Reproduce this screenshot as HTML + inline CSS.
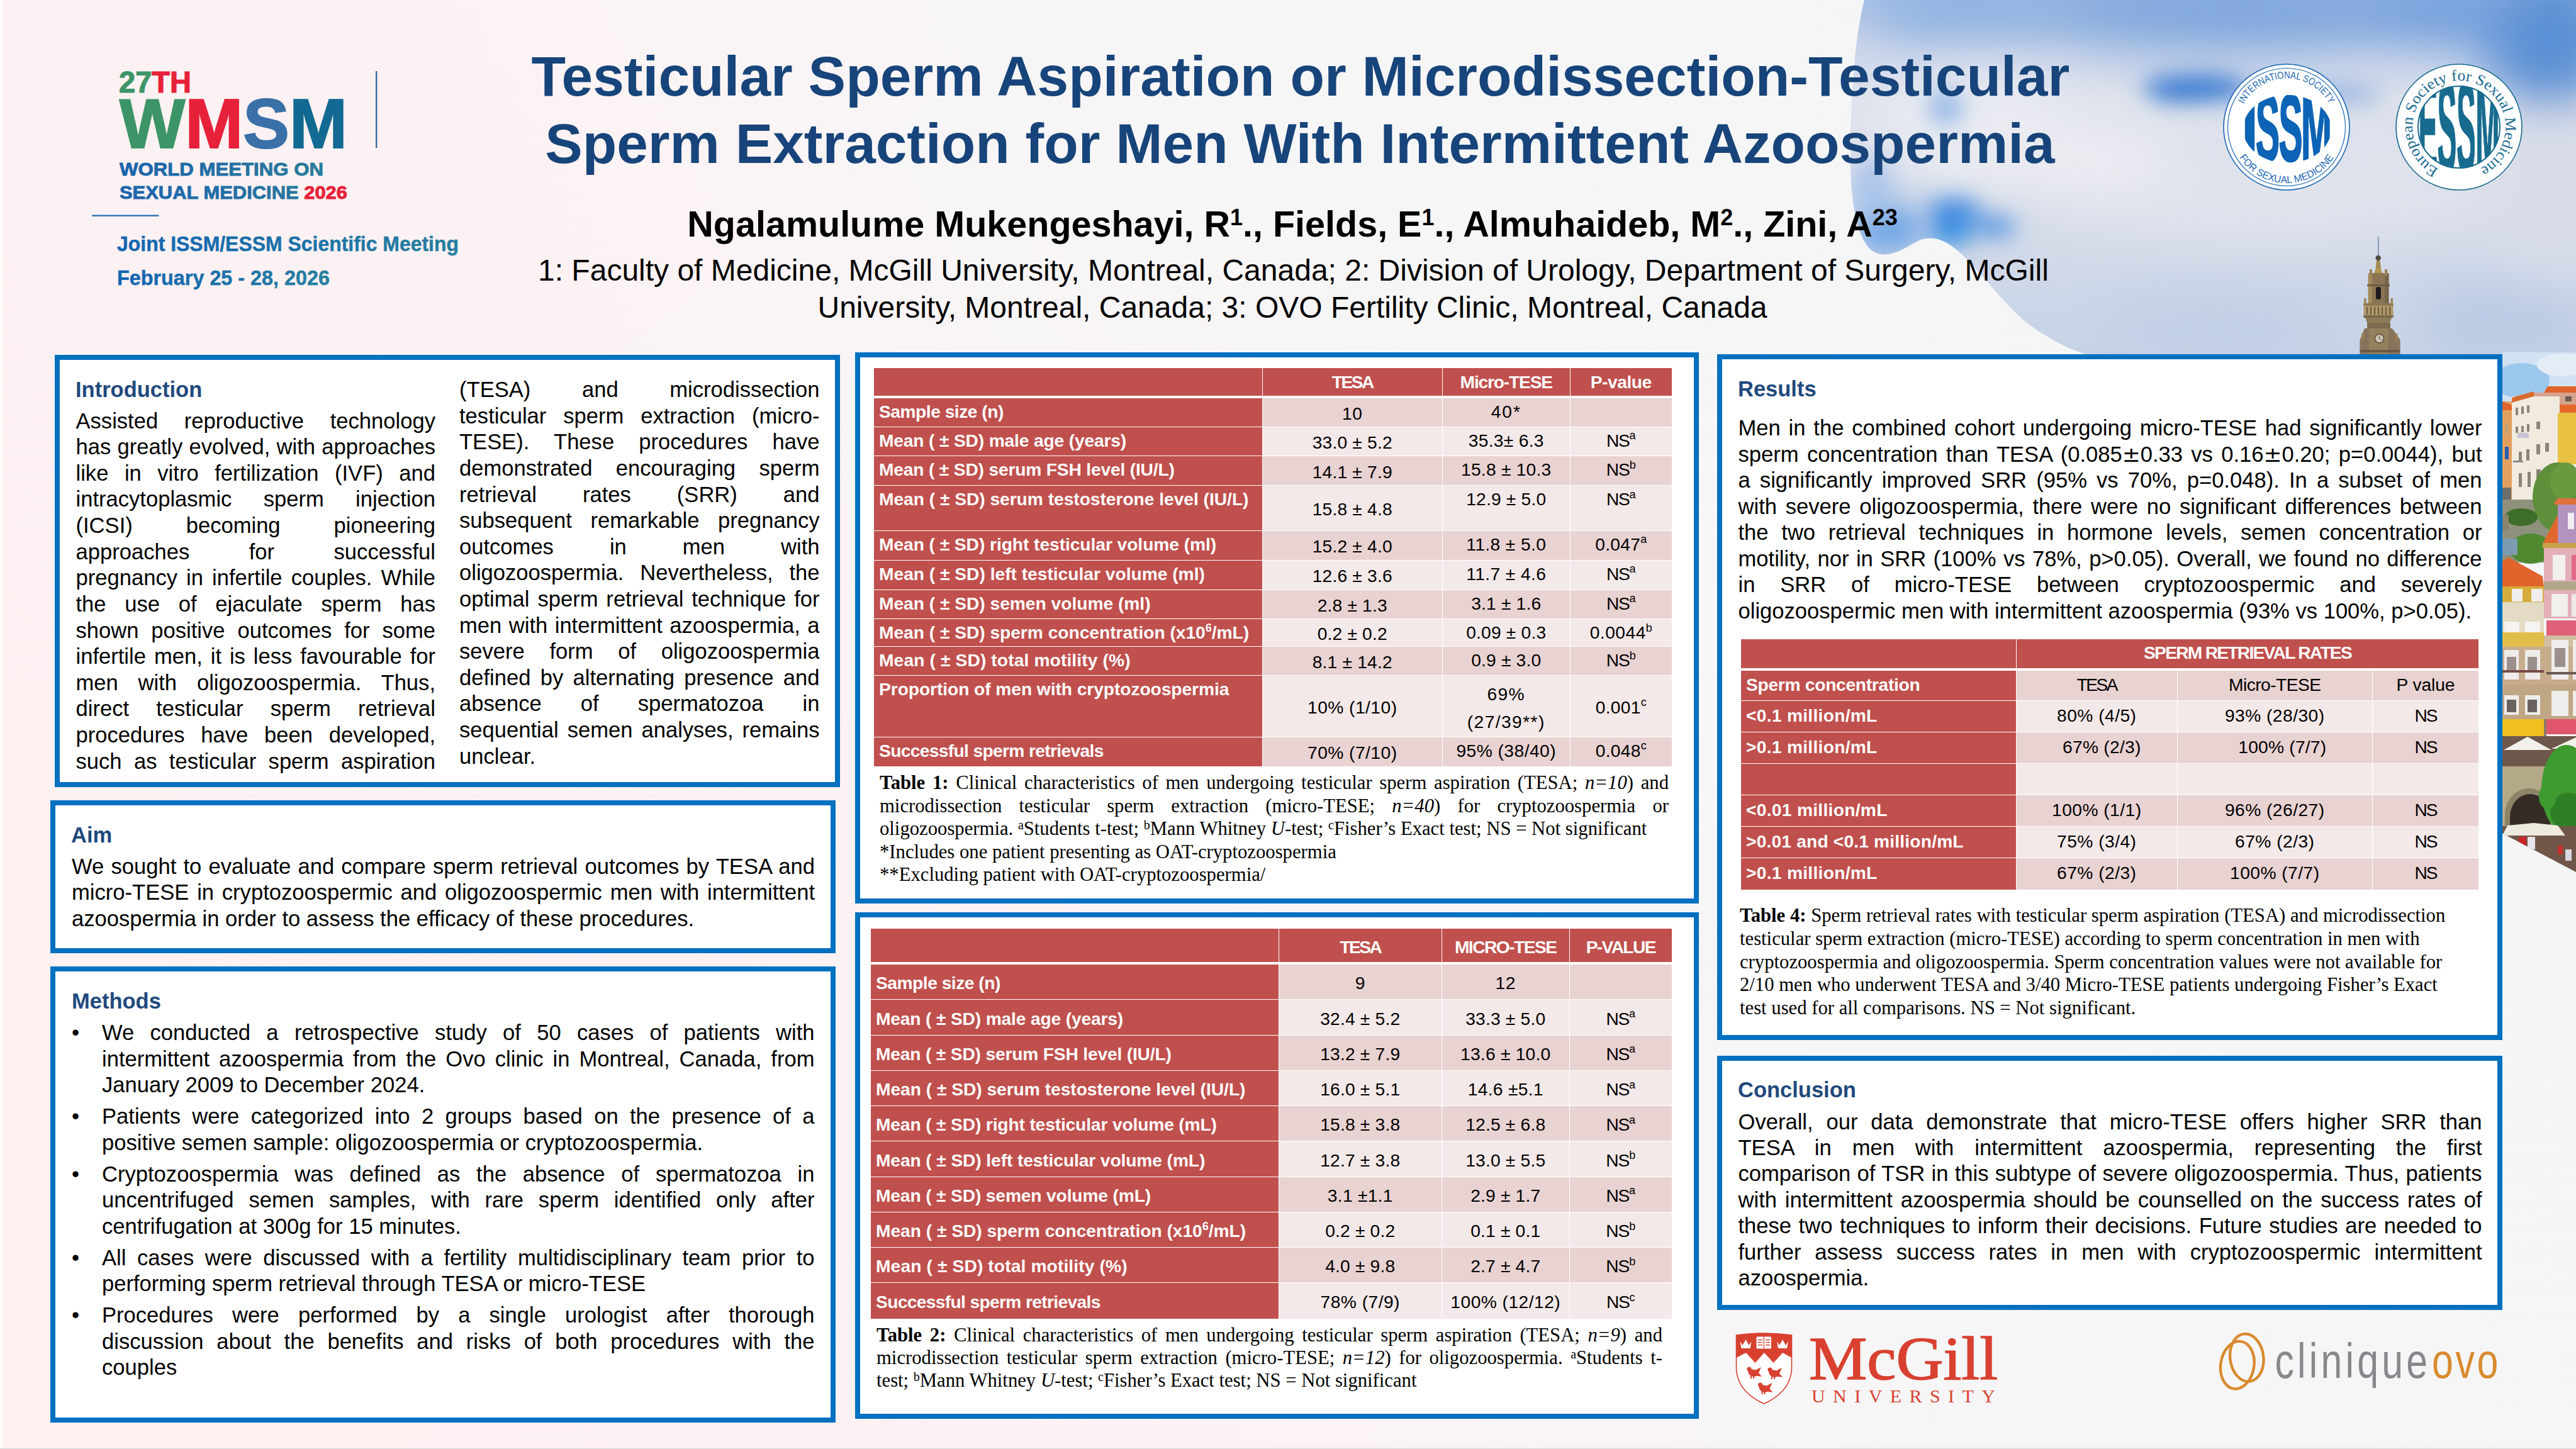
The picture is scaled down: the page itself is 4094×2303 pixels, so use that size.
<!DOCTYPE html>
<html lang="en"><head><meta charset="utf-8"><title>Testicular Sperm Aspiration or Microdissection-Testicular Sperm Extraction for Men With Intermittent Azoospermia</title>
<style>
*{box-sizing:border-box;margin:0;padding:0}
html,body{width:4094px;height:2303px;overflow:hidden}
body{position:relative;font-family:"Liberation Sans",sans-serif;color:#000;background:#f8f2f3}
.abs{position:absolute}
.box{position:absolute;background:#fff;border:8px solid #0070c0}
.h{position:absolute;font-weight:bold;font-size:34.5px;line-height:42px;color:#1f497d;white-space:nowrap}
.ln{position:absolute;font-size:34.6px;line-height:42px;height:42px;text-align:justify;text-align-last:justify;overflow:visible;white-space:nowrap}
.ln.l{text-align:left;text-align-last:left;white-space:nowrap}
.sf{font-family:"Liberation Serif",serif;font-size:30.7px;line-height:37px;height:37px}
.sf sup{font-size:20px;line-height:0;vertical-align:baseline;position:relative;top:-9px}
table{position:absolute;border-collapse:separate;border-spacing:0;table-layout:fixed;font-size:28.2px}
td{overflow:hidden;white-space:nowrap;text-align:center;vertical-align:middle;padding:0;border-right:1px solid #fff;border-bottom:1px solid #fff;line-height:34px}
tr.hrow td{border-bottom:4px solid #fff}
td sup{font-size:18px;letter-spacing:0;line-height:0;position:relative;top:-1px;vertical-align:super}
td.r{background:#c0504d;color:#fff;font-weight:bold;text-align:left;padding-left:8px}
td.hd{background:#c0504d;color:#fff;font-weight:bold}
tr.a td.d{background:#e9d2d2}
tr.b td.d{background:#f4e9e9}
td.last{border-right:none}
.pm{font-family:"DejaVu Sans",sans-serif}
tr.lastrow td{border-bottom:none}
</style></head>
<body>
<svg class="abs" style="left:0;top:0" width="4094" height="2303" viewBox="0 0 4094 2303">
<defs>
<linearGradient id="bgG" gradientUnits="userSpaceOnUse" x1="0" y1="1100" x2="4094" y2="-1097">
<stop offset="0" stop-color="#fdf1f2"/><stop offset="0.24" stop-color="#fcf2f3"/><stop offset="0.36" stop-color="#f9f5f6"/><stop offset="0.5" stop-color="#f6f6f7"/><stop offset="1" stop-color="#f3f4f5"/>
</linearGradient>
<linearGradient id="skyG" x1="0" x2="0" y1="0" y2="1">
<stop offset="0" stop-color="#a9c0e4"/><stop offset="0.12" stop-color="#c9d4ea"/><stop offset="0.28" stop-color="#dfe2ec"/><stop offset="0.5" stop-color="#d9dde9"/><stop offset="0.75" stop-color="#d0d8e8"/><stop offset="1" stop-color="#c6d2e6"/>
</linearGradient>
<filter id="bl60" x="-50%" y="-50%" width="200%" height="200%"><feGaussianBlur stdDeviation="40"/></filter>
<filter id="bl30" x="-50%" y="-50%" width="200%" height="200%"><feGaussianBlur stdDeviation="18"/></filter>
<filter id="bl12" x="-50%" y="-50%" width="200%" height="200%"><feGaussianBlur stdDeviation="9"/></filter>
<clipPath id="skyclip"><path d="M2963 0 C2948 60 2941 150 2941 250 C2941 320 2950 372 2972 396 C2996 416 3024 396 3050 382 C3074 372 3098 384 3122 408 C3150 436 3180 476 3215 508 C3255 540 3290 556 3330 568 L3985 568 L3985 1317 L4094 1384 L4094 0 Z"/></clipPath>
</defs>
<rect width="4094" height="2303" fill="url(#bgG)"/>
<path d="M1600 0 C1500 150 1250 400 900 600 L1750 600 C1500 400 1750 150 2000 0 Z" fill="#f8f4f5" opacity="0.55"/>
<rect x="0" y="0" width="4" height="2303" fill="#fdfbfb"/><rect x="0" y="2301.5" width="4094" height="1.5" fill="#dcdcdc"/>
<g clip-path="url(#skyclip)">
<rect x="2900" y="0" width="1200" height="580" fill="url(#skyG)"/>
<rect x="3977" y="560" width="120" height="70" fill="#cfd8e8"/>
<g filter="url(#bl60)">
<ellipse cx="3130" cy="20" rx="150" ry="60" fill="#8fb2e2"/>
<ellipse cx="3560" cy="20" rx="330" ry="55" fill="#7da5dc"/>
<ellipse cx="4050" cy="60" rx="110" ry="110" fill="#5a90d4"/>
<ellipse cx="3880" cy="20" rx="130" ry="50" fill="#6f9ddb"/>
<ellipse cx="3130" cy="200" rx="150" ry="110" fill="#e8eaf1"/>
<ellipse cx="3600" cy="300" rx="380" ry="80" fill="#e0e3ec"/>
<ellipse cx="4040" cy="330" rx="90" ry="130" fill="#d9dde9"/>
<ellipse cx="3980" cy="510" rx="140" ry="60" fill="#b9cae5"/><ellipse cx="3300" cy="250" rx="160" ry="60" fill="#ebecf2"/>
<ellipse cx="3520" cy="520" rx="200" ry="45" fill="#bfcee6"/>
<ellipse cx="3010" cy="350" rx="50" ry="40" fill="#8db6e6"/>
</g>
<g filter="url(#bl30)">
<ellipse cx="3490" cy="140" rx="85" ry="20" fill="#2f74d0"/><ellipse cx="3470" cy="148" rx="50" ry="14" fill="#2f74d0"/>
<ellipse cx="3680" cy="150" rx="110" ry="14" fill="#86abdf"/>
<ellipse cx="3105" cy="335" rx="44" ry="20" fill="#3f88e0"/>
<ellipse cx="3170" cy="360" rx="34" ry="16" fill="#4a8fe0"/>
<ellipse cx="3092" cy="170" rx="26" ry="28" fill="#8fb4e6"/>
<ellipse cx="3100" cy="372" rx="36" ry="18" fill="#2f8de0"/>
<ellipse cx="3000" cy="365" rx="50" ry="34" fill="#74a9e6"/>
<ellipse cx="2975" cy="300" rx="30" ry="50" fill="#a9c4ea"/>
</g>
</g>
</svg>
<svg class="abs" style="left:0;top:0" width="1000" height="520" viewBox="0 0 1000 520" font-family="Liberation Sans, sans-serif" font-weight="bold">
<defs>
<linearGradient id="blg" x1="0" x2="1"><stop offset="0" stop-color="#1c63ad"/><stop offset="1" stop-color="#2b7c9c"/></linearGradient>
<linearGradient id="blg2" x1="0" x2="1"><stop offset="0" stop-color="#1265b3"/><stop offset="1" stop-color="#257f9f"/></linearGradient>
</defs>
<text x="189" y="146.5" font-size="48" textLength="115" lengthAdjust="spacingAndGlyphs" stroke-width="1.2" paint-order="stroke"><tspan fill="#3d9567" stroke="#3d9567">27</tspan><tspan fill="#e8213b" stroke="#e8213b">TH</tspan></text>
<text x="190" y="234.8" font-size="111.5" textLength="362" lengthAdjust="spacingAndGlyphs" stroke-width="2.2"><tspan fill="#3d9567" stroke="#3d9567">W</tspan><tspan fill="#e8213b" stroke="#e8213b">M</tspan><tspan fill="#3a70a8" stroke="#3a70a8">S</tspan><tspan fill="#126a92" stroke="#126a92">M</tspan></text>
<rect x="597" y="113" width="2.4" height="122" fill="#2d6d9c"/>
<text x="190" y="279" font-size="30" fill="url(#blg)" stroke="url(#blg)" stroke-width="0.9" textLength="324" lengthAdjust="spacingAndGlyphs">WORLD MEETING ON</text>
<text x="190" y="316" font-size="30" fill="url(#blg)" stroke="url(#blg)" stroke-width="0.9" textLength="362" lengthAdjust="spacingAndGlyphs">SEXUAL MEDICINE <tspan fill="#e8213b" stroke="#e8213b">2026</tspan></text>
<rect x="146" y="341.5" width="106.5" height="2.4" fill="#2a72b8"/>
<text x="186" y="399" font-size="33.5" fill="url(#blg2)" stroke="url(#blg2)" stroke-width="0.5" textLength="543" lengthAdjust="spacingAndGlyphs">Joint ISSM/ESSM Scientific Meeting</text>
<text x="186" y="453" font-size="33.5" fill="url(#blg2)" stroke="url(#blg2)" stroke-width="0.5" textLength="338" lengthAdjust="spacingAndGlyphs">February 25 - 28, 2026</text>
</svg>
<div class="abs" style="left:844.6px;top:67.6px;width:2460px;text-align:left;font-weight:bold;font-size:89.3px;line-height:106px;color:#17447a;white-space:nowrap">Testicular Sperm Aspiration or Microdissection-Testicular</div>
<div class="abs" style="left:866.3px;top:175px;width:2460px;text-align:left;font-weight:bold;font-size:89.2px;line-height:106px;color:#17447a;white-space:nowrap">Sperm Extraction for Men With Intermittent Azoospermia</div>
<div class="abs" id="auth" style="left:1092.3px;top:323.3px;font-weight:bold;font-size:57.5px;line-height:66px;white-space:nowrap">Ngalamulume Mukengeshayi, R<sup style="font-size:36px;line-height:0;vertical-align:baseline;position:relative;top:-18px">1</sup>., Fields, E<sup style="font-size:36px;line-height:0;vertical-align:baseline;position:relative;top:-18px">1</sup>., Almuhaideb, M<sup style="font-size:36px;line-height:0;vertical-align:baseline;position:relative;top:-18px">2</sup>., Zini, A<sup style="font-size:36px;line-height:0;vertical-align:baseline;position:relative;top:-18px">23</sup></div>
<div class="abs" style="left:855px;top:401px;font-size:48px;line-height:58px;white-space:nowrap">1: Faculty of Medicine, McGill University, Montreal, Canada; 2: Division of Urology, Department of Surgery, McGill</div>
<div class="abs" style="left:1299.5px;top:460px;font-size:48px;line-height:58px;white-space:nowrap">University, Montreal, Canada; 3: OVO Fertility Clinic, Montreal, Canada</div>
<svg class="abs" style="left:3524px;top:92px" width="220" height="220" viewBox="-110 -110 220 220" font-family="Liberation Sans, sans-serif">
<circle r="100" fill="#fff" stroke="#1a66b3" stroke-width="1.6"/>
<circle r="93.5" fill="none" stroke="#1a66b3" stroke-width="1.2"/>
<defs><clipPath id="issmClip"><ellipse cx="1" cy="3" rx="70" ry="54"/></clipPath></defs>
<path id="issmTop" d="M-77.5 0 A77.5 77.5 0 0 1 77.5 0" fill="none"/>
<path id="issmBot" d="M-89 0 A89 89 0 0 0 89 0" fill="none"/>
<text font-size="16" fill="#1a66b3"><textPath href="#issmTop" startOffset="50%" text-anchor="middle" textLength="167" lengthAdjust="spacingAndGlyphs">INTERNATIONAL SOCIETY</textPath></text>
<text font-size="16" fill="#1a66b3"><textPath href="#issmBot" startOffset="50%" text-anchor="middle" textLength="178" lengthAdjust="spacingAndGlyphs">FOR SEXUAL MEDICINE</textPath></text>
<g font-weight="bold" fill="#0d63b5" stroke="#0d63b5" stroke-width="3" stroke-linejoin="round" clip-path="url(#issmClip)">
<text x="-71" y="44" font-size="120" textLength="25" lengthAdjust="spacingAndGlyphs">I</text>
<text x="-49" y="54" font-size="150" textLength="38" lengthAdjust="spacingAndGlyphs">S</text>
<text x="-12.5" y="54" font-size="150" textLength="38" lengthAdjust="spacingAndGlyphs">S</text>
<text x="23" y="52" font-size="146" textLength="49" lengthAdjust="spacingAndGlyphs">M</text>
</g>
</svg>
<svg class="abs" style="left:3798px;top:92px" width="220" height="220" viewBox="-110 -110 220 220">
<defs><clipPath id="essmClip"><circle r="66"/></clipPath></defs>
<circle r="100" fill="#fff" stroke="#176b8f" stroke-width="1.6"/>
<path id="essmArc" d="M-32.4 66.5 A74 74 0 1 1 33.6 65.9" fill="none"/>
<text font-size="24.5" fill="#176b8f" font-family="Liberation Serif, serif"><textPath href="#essmArc" startOffset="0" textLength="396" lengthAdjust="spacingAndGlyphs">European Society for Sexual Medicine</textPath></text>
<circle r="65" fill="none" stroke="#176b8f" stroke-width="2"/>
<g clip-path="url(#essmClip)"><text x="0" y="72" text-anchor="middle" font-size="208" font-weight="bold" fill="#176b8f" stroke="#176b8f" stroke-width="3" font-family="Liberation Sans, sans-serif" textLength="129" lengthAdjust="spacingAndGlyphs">ESSM</text></g>
</svg>
<svg class="abs" style="left:3740px;top:370px" width="90" height="196" viewBox="0 0 90 196">
<rect x="39" y="6" width="1.5" height="31" fill="#6b86ad"/>
<circle cx="39.7" cy="40" r="4.2" fill="#4f4a40"/>
<path d="M37 44 H42.5 L44 56 H35.5 Z" fill="#a58a52"/>
<path d="M33 65 L36 56 H43.5 L46.5 65 Z" fill="#b3964f"/>
<rect x="23.8" y="64" width="32.6" height="48" fill="#8a7554"/>
<rect x="23.8" y="64" width="6" height="48" fill="#a58c5e"/><rect x="50.4" y="64" width="6" height="48" fill="#75634a"/>
<rect x="26" y="58" width="4" height="10" fill="#9c8458"/><rect x="50" y="58" width="4" height="10" fill="#9c8458"/>
<rect x="22" y="82" width="36" height="3" fill="#6e5d45"/>
<rect x="36" y="86" width="8" height="20" rx="3.5" fill="#1d1b1f"/>
<rect x="16.5" y="112" width="47" height="23" fill="#b0986a"/>
<rect x="16.5" y="112" width="47" height="4" fill="#8a7554"/><rect x="16.5" y="131" width="47" height="4" fill="#7a684c"/>
<rect x="17" y="104" width="3.5" height="10" fill="#9c8458"/><rect x="59.5" y="104" width="3.5" height="10" fill="#9c8458"/>
<g fill="#6a5a44"><rect x="21" y="118" width="2" height="12"/><rect x="27" y="118" width="2" height="12"/><rect x="33" y="118" width="2" height="12"/><rect x="39" y="118" width="2" height="12"/><rect x="45" y="118" width="2" height="12"/><rect x="51" y="118" width="2" height="12"/><rect x="57" y="118" width="2" height="12"/></g>
<path d="M19 135 H61 L58 143 H22 Z" fill="#8f7a58"/>
<rect x="22" y="143" width="37" height="10" fill="#7e6b50"/>
<path d="M10.5 196 V170 L18 152 H62 L74.5 170 V196 Z" fill="#86735a"/>
<rect x="25" y="152" width="31" height="44" fill="#93805f"/>
<rect x="13" y="160" width="3.5" height="12" fill="#9c8458"/><rect x="67" y="160" width="3.5" height="12" fill="#9c8458"/>
<rect x="10.5" y="186" width="64" height="4" fill="#6a5a44"/>
<circle cx="41.5" cy="168" r="7" fill="#cfc6b8" stroke="#5e4f3c" stroke-width="1.6"/>
<path d="M41.5 168 V163.5 M41.5 168 L44.5 171" stroke="#4a4038" stroke-width="1" fill="none"/>
</svg>
<div class="box" style="left:87px;top:564px;width:1248px;height:687px"></div>
<div class="h" style="left:120px;top:598px">Introduction</div>
<div class="ln" style="left:120.5px;top:647.5px;width:571.5px;">Assisted reproductive technology</div>
<div class="ln" style="left:120.5px;top:689.1px;width:571.5px;">has greatly evolved, with approaches</div>
<div class="ln" style="left:120.5px;top:730.7px;width:571.5px;">like in vitro fertilization (IVF) and</div>
<div class="ln" style="left:120.5px;top:772.4px;width:571.5px;">intracytoplasmic sperm injection</div>
<div class="ln" style="left:120.5px;top:814.0px;width:571.5px;">(ICSI) becoming pioneering</div>
<div class="ln" style="left:120.5px;top:855.6px;width:571.5px;">approaches for successful</div>
<div class="ln" style="left:120.5px;top:897.2px;width:571.5px;">pregnancy in infertile couples. While</div>
<div class="ln" style="left:120.5px;top:938.8px;width:571.5px;">the use of ejaculate sperm has</div>
<div class="ln" style="left:120.5px;top:980.5px;width:571.5px;">shown positive outcomes for some</div>
<div class="ln" style="left:120.5px;top:1022.1px;width:571.5px;">infertile men, it is less favourable for</div>
<div class="ln" style="left:120.5px;top:1063.7px;width:571.5px;">men with oligozoospermia. Thus,</div>
<div class="ln" style="left:120.5px;top:1105.3px;width:571.5px;">direct testicular sperm retrieval</div>
<div class="ln" style="left:120.5px;top:1146.9px;width:571.5px;">procedures have been developed,</div>
<div class="ln" style="left:120.5px;top:1188.6px;width:571.5px;">such as testicular sperm aspiration</div>
<div class="ln" style="left:730px;top:598.0px;width:572.5px;">(TESA) and microdissection</div>
<div class="ln" style="left:730px;top:639.6px;width:572.5px;">testicular sperm extraction (micro-</div>
<div class="ln" style="left:730px;top:681.2px;width:572.5px;">TESE). These procedures have</div>
<div class="ln" style="left:730px;top:722.9px;width:572.5px;">demonstrated encouraging sperm</div>
<div class="ln" style="left:730px;top:764.5px;width:572.5px;">retrieval rates (SRR) and</div>
<div class="ln" style="left:730px;top:806.1px;width:572.5px;">subsequent remarkable pregnancy</div>
<div class="ln" style="left:730px;top:847.7px;width:572.5px;">outcomes in men with</div>
<div class="ln" style="left:730px;top:889.3px;width:572.5px;">oligozoospermia. Nevertheless, the</div>
<div class="ln" style="left:730px;top:931.0px;width:572.5px;">optimal sperm retrieval technique for</div>
<div class="ln" style="left:730px;top:972.6px;width:572.5px;">men with intermittent azoospermia, a</div>
<div class="ln" style="left:730px;top:1014.2px;width:572.5px;">severe form of oligozoospermia</div>
<div class="ln" style="left:730px;top:1055.8px;width:572.5px;">defined by alternating presence and</div>
<div class="ln" style="left:730px;top:1097.4px;width:572.5px;">absence of spermatozoa in</div>
<div class="ln" style="left:730px;top:1139.1px;width:572.5px;">sequential semen analyses, remains</div>
<div class="ln l" style="left:730px;top:1180.7px;width:572.5px;">unclear.</div>
<div class="box" style="left:80px;top:1272px;width:1248px;height:243px"></div>
<div class="h" style="left:113px;top:1306px">Aim</div>
<div class="ln" style="left:114px;top:1355.5px;width:1181px;">We sought to evaluate and compare sperm retrieval outcomes by TESA and</div>
<div class="ln" style="left:114px;top:1397.1px;width:1181px;">micro-TESE in cryptozoospermic and oligozoospermic men with intermittent</div>
<div class="ln l" style="left:114px;top:1438.7px;width:1181px;">azoospermia in order to assess the efficacy of these procedures.</div>
<div class="box" style="left:80px;top:1536px;width:1248px;height:725px"></div>
<div class="h" style="left:114px;top:1569.5px">Methods</div>
<div class="ln l" style="left:114px;top:1620.0px;width:40px">•</div>
<div class="ln" style="left:162px;top:1620.0px;width:1132.5px;">We conducted a retrospective study of 50 cases of patients with</div>
<div class="ln" style="left:162px;top:1661.5px;width:1132.5px;">intermittent azoospermia from the Ovo clinic in Montreal, Canada, from</div>
<div class="ln l" style="left:162px;top:1703.1px;width:1132.5px;">January 2009 to December 2024.</div>
<div class="ln l" style="left:114px;top:1753.1px;width:40px">•</div>
<div class="ln" style="left:162px;top:1753.1px;width:1132.5px;">Patients were categorized into 2 groups based on the presence of a</div>
<div class="ln l" style="left:162px;top:1794.6px;width:1132.5px;">positive semen sample: oligozoospermia or cryptozoospermia.</div>
<div class="ln l" style="left:114px;top:1844.6px;width:40px">•</div>
<div class="ln" style="left:162px;top:1844.6px;width:1132.5px;">Cryptozoospermia was defined as the absence of spermatozoa in</div>
<div class="ln" style="left:162px;top:1886.2px;width:1132.5px;">uncentrifuged semen samples, with rare sperm identified only after</div>
<div class="ln l" style="left:162px;top:1927.7px;width:1132.5px;">centrifugation at 300g for 15 minutes.</div>
<div class="ln l" style="left:114px;top:1977.7px;width:40px">•</div>
<div class="ln" style="left:162px;top:1977.7px;width:1132.5px;">All cases were discussed with a fertility multidisciplinary team prior to</div>
<div class="ln l" style="left:162px;top:2019.3px;width:1132.5px;">performing sperm retrieval through TESA or micro-TESE</div>
<div class="ln l" style="left:114px;top:2069.3px;width:40px">•</div>
<div class="ln" style="left:162px;top:2069.3px;width:1132.5px;">Procedures were performed by a single urologist after thorough</div>
<div class="ln" style="left:162px;top:2110.8px;width:1132.5px;">discussion about the benefits and risks of both procedures with the</div>
<div class="ln l" style="left:162px;top:2152.4px;width:1132.5px;">couples</div>
<div class="box" style="left:1359px;top:560px;width:1341px;height:876px"></div>
<table style="left:1389px;top:585px;width:1268.0px;"><colgroup><col style="width:617.5px"><col style="width:286.5px"><col style="width:202.5px"><col style="width:161.5px"></colgroup><tr class="hrow" style="height:48px"><td class="hd" style="height:48px;"></td><td class="hd" style="height:48px;padding-top:0px"><span style="letter-spacing:-2.54px">TESA</span></td><td class="hd" style="height:48px;"><span style="letter-spacing:-1.19px">Micro-TESE</span></td><td class="hd last" style="height:48px;"><span style="letter-spacing:-0.44px">P-value</span></td></tr><tr class="a" style="height:45.6px"><td class="r" style="height:45.6px;vertical-align:top;padding-top:4px;"><span style="letter-spacing:-0.49px">Sample size (n)</span></td><td class="d" style="height:45.6px;padding-top:3px;"><span style="letter-spacing:0.48px">10</span></td><td class="d" style="height:45.6px;vertical-align:top;padding-top:4px;"><span style="letter-spacing:1.96px">40*</span></td><td class="d last" style="height:45.6px;vertical-align:top;padding-top:4px;"></td></tr><tr class="b" style="height:46.6px"><td class="r" style="height:46.6px;vertical-align:top;padding-top:4px;"><span style="letter-spacing:-0.16px">Mean ( ± SD) male age (years)</span></td><td class="d" style="height:46.6px;padding-top:3px;"><span style="letter-spacing:0.20px">33.0 ± 5.2</span></td><td class="d" style="height:46.6px;vertical-align:top;padding-top:4px;"><span style="letter-spacing:0.30px">35.3± 6.3</span></td><td class="d last" style="height:46.6px;vertical-align:top;padding-top:4px;"><span style="letter-spacing:-1.39px">NS<sup>a</sup></span></td></tr><tr class="a" style="height:47.1px"><td class="r" style="height:47.1px;vertical-align:top;padding-top:4px;"><span style="letter-spacing:-0.18px">Mean ( ± SD) serum FSH level (IU/L)</span></td><td class="d" style="height:47.1px;padding-top:3px;"><span style="letter-spacing:0.20px">14.1 ± 7.9</span></td><td class="d" style="height:47.1px;vertical-align:top;padding-top:4px;"><span style="letter-spacing:0.23px">15.8 ± 10.3</span></td><td class="d last" style="height:47.1px;vertical-align:top;padding-top:4px;"><span style="letter-spacing:-1.07px">NS<sup>b</sup></span></td></tr><tr class="b" style="height:71.3px"><td class="r" style="height:71.3px;vertical-align:top;padding-top:4px;"><span style="letter-spacing:-0.03px">Mean ( ± SD) serum testosterone level (IU/L)</span></td><td class="d" style="height:71.3px;padding-top:3px;"><span style="letter-spacing:0.20px">15.8 ± 4.8</span></td><td class="d" style="height:71.3px;vertical-align:top;padding-top:4px;"><span style="letter-spacing:0.20px">12.9 ± 5.0</span></td><td class="d last" style="height:71.3px;vertical-align:top;padding-top:4px;"><span style="letter-spacing:-1.39px">NS<sup>a</sup></span></td></tr><tr class="a" style="height:47.1px"><td class="r" style="height:47.1px;vertical-align:top;padding-top:4px;"><span style="letter-spacing:-0.06px">Mean ( ± SD) right testicular volume (ml)</span></td><td class="d" style="height:47.1px;padding-top:3px;"><span style="letter-spacing:0.20px">15.2 ± 4.0</span></td><td class="d" style="height:47.1px;vertical-align:top;padding-top:4px;"><span style="letter-spacing:0.41px">11.8 ± 5.0</span></td><td class="d last" style="height:47.1px;vertical-align:top;padding-top:4px;"><span style="letter-spacing:0.32px">0.047<sup>a</sup></span></td></tr><tr class="b" style="height:47.2px"><td class="r" style="height:47.2px;vertical-align:top;padding-top:4px;"><span style="letter-spacing:-0.01px">Mean ( ± SD) left testicular volume (ml)</span></td><td class="d" style="height:47.2px;padding-top:3px;"><span style="letter-spacing:0.20px">12.6 ± 3.6</span></td><td class="d" style="height:47.2px;vertical-align:top;padding-top:4px;"><span style="letter-spacing:0.41px">11.7 ± 4.6</span></td><td class="d last" style="height:47.2px;vertical-align:top;padding-top:4px;"><span style="letter-spacing:-1.39px">NS<sup>a</sup></span></td></tr><tr class="a" style="height:46.6px"><td class="r" style="height:46.6px;vertical-align:top;padding-top:4px;"><span style="letter-spacing:-0.02px">Mean ( ± SD) semen volume (ml)</span></td><td class="d" style="height:46.6px;padding-top:3px;"><span style="letter-spacing:0.17px">2.8 ± 1.3</span></td><td class="d" style="height:46.6px;vertical-align:top;padding-top:4px;"><span style="letter-spacing:0.17px">3.1 ± 1.6</span></td><td class="d last" style="height:46.6px;vertical-align:top;padding-top:4px;"><span style="letter-spacing:-1.39px">NS<sup>a</sup></span></td></tr><tr class="b" style="height:43.5px"><td class="r" style="height:43.5px;vertical-align:top;padding-top:4px;"><span style="letter-spacing:-0.03px">Mean ( ± SD) sperm concentration (x10<sup>6</sup>/mL)</span></td><td class="d" style="height:43.5px;padding-top:3px;"><span style="letter-spacing:0.17px">0.2 ± 0.2</span></td><td class="d" style="height:43.5px;vertical-align:top;padding-top:4px;"><span style="letter-spacing:0.20px">0.09 ± 0.3</span></td><td class="d last" style="height:43.5px;vertical-align:top;padding-top:4px;"><span style="letter-spacing:0.48px">0.0044<sup>b</sup></span></td></tr><tr class="a" style="height:46px"><td class="r" style="height:46px;vertical-align:top;padding-top:4px;"><span style="letter-spacing:0.12px">Mean ( ± SD) total motility (%)</span></td><td class="d" style="height:46px;padding-top:3px;"><span style="letter-spacing:0.20px">8.1 ± 14.2</span></td><td class="d" style="height:46px;vertical-align:top;padding-top:4px;"><span style="letter-spacing:0.17px">0.9 ± 3.0</span></td><td class="d last" style="height:46px;vertical-align:top;padding-top:4px;"><span style="letter-spacing:-1.07px">NS<sup>b</sup></span></td></tr><tr class="b" style="height:97.6px"><td class="r" style="height:97.6px;vertical-align:top;padding-top:4px;"><span style="letter-spacing:-0.07px">Proportion of men with cryptozoospermia</span></td><td class="d" style="height:97.6px;padding-top:3px;"><span style="letter-spacing:0.46px">10% (1/10)</span></td><td class="d" style="height:97.6px;line-height:44px;padding-top:5px"><span style="letter-spacing:1.40px">69%<br>(27/39**)</span></td><td class="d last" style="height:97.6px;padding-top:3px;"><span style="letter-spacing:0.30px">0.001<sup>c</sup></span></td></tr><tr class="a lastrow" style="height:46.6px"><td class="r" style="height:46.6px;vertical-align:top;padding-top:4px;"><span style="letter-spacing:-0.66px">Successful sperm retrievals</span></td><td class="d" style="height:46.6px;padding-top:3px;"><span style="letter-spacing:0.46px">70% (7/10)</span></td><td class="d" style="height:46.6px;vertical-align:top;padding-top:4px;"><span style="letter-spacing:0.46px">95% (38/40)</span></td><td class="d last" style="height:46.6px;vertical-align:top;padding-top:4px;"><span style="letter-spacing:0.30px">0.048<sup>c</sup></span></td></tr></table>
<div class="ln sf" style="left:1398px;top:1226.0px;width:1254px;"><b>Table 1:</b> Clinical characteristics of men undergoing testicular sperm aspiration (TESA; <i>n=10</i>) and</div>
<div class="ln sf" style="left:1398px;top:1262.6px;width:1254px;">microdissection testicular sperm extraction (micro-TESE; <i>n=40</i>) for cryptozoospermia or</div>
<div class="ln sf l" style="left:1398px;top:1299.2px;width:1254px;">oligozoospermia. <sup>a</sup>Students t-test; <sup>b</sup>Mann Whitney <i>U</i>-test; <sup>c</sup>Fisher’s Exact test; NS = Not significant</div>
<div class="ln sf l" style="left:1398px;top:1335.8px;width:1254px;">*Includes one patient presenting as OAT-cryptozoospermia</div>
<div class="ln sf l" style="left:1398px;top:1372.4px;width:1254px;">**Excluding patient with OAT-cryptozoospermia/</div>
<div class="box" style="left:1359px;top:1450px;width:1341px;height:805px"></div>
<table style="left:1384px;top:1476px;width:1273.0px;"><colgroup><col style="width:648.5px"><col style="width:259.5px"><col style="width:202.5px"><col style="width:162.5px"></colgroup><tr class="hrow" style="height:57.2px"><td class="hd" style="height:57.2px;"></td><td class="hd" style="height:57.2px;padding-top:5px"><span style="letter-spacing:-2.54px">TESA</span></td><td class="hd" style="height:57.2px;padding-top:5px"><span style="letter-spacing:-1.53px">MICRO-TESE</span></td><td class="hd last" style="height:57.2px;padding-top:5px"><span style="letter-spacing:-1.65px">P-VALUE</span></td></tr><tr class="a" style="height:56.25px"><td class="r" style="height:56.25px;padding-top:3px;"><span style="letter-spacing:-0.49px">Sample size (n)</span></td><td class="d" style="height:56.25px;padding-top:3px;"><span style="letter-spacing:0.48px">9</span></td><td class="d" style="height:56.25px;padding-top:3px;"><span style="letter-spacing:0.48px">12</span></td><td class="d last" style="height:56.25px;padding-top:3px;"></td></tr><tr class="b" style="height:56.25px"><td class="r" style="height:56.25px;padding-top:3px;"><span style="letter-spacing:-0.16px">Mean ( ± SD) male age (years)</span></td><td class="d" style="height:56.25px;padding-top:3px;"><span style="letter-spacing:0.20px">32.4 ± 5.2</span></td><td class="d" style="height:56.25px;padding-top:3px;"><span style="letter-spacing:0.20px">33.3 ± 5.0</span></td><td class="d last" style="height:56.25px;padding-top:3px;"><span style="letter-spacing:-1.39px">NS<sup>a</sup></span></td></tr><tr class="a" style="height:56.25px"><td class="r" style="height:56.25px;padding-top:3px;"><span style="letter-spacing:-0.18px">Mean ( ± SD) serum FSH level (IU/L)</span></td><td class="d" style="height:56.25px;padding-top:3px;"><span style="letter-spacing:0.20px">13.2 ± 7.9</span></td><td class="d" style="height:56.25px;padding-top:3px;"><span style="letter-spacing:0.23px">13.6 ± 10.0</span></td><td class="d last" style="height:56.25px;padding-top:3px;"><span style="letter-spacing:-1.39px">NS<sup>a</sup></span></td></tr><tr class="b" style="height:56.25px"><td class="r" style="height:56.25px;padding-top:3px;"><span style="letter-spacing:-0.03px">Mean ( ± SD) serum testosterone level (IU/L)</span></td><td class="d" style="height:56.25px;padding-top:3px;"><span style="letter-spacing:0.20px">16.0 ± 5.1</span></td><td class="d" style="height:56.25px;padding-top:3px;"><span style="letter-spacing:0.30px">14.6 ±5.1</span></td><td class="d last" style="height:56.25px;padding-top:3px;"><span style="letter-spacing:-1.39px">NS<sup>a</sup></span></td></tr><tr class="a" style="height:56.25px"><td class="r" style="height:56.25px;padding-top:3px;"><span style="letter-spacing:-0.15px">Mean ( ± SD) right testicular volume (mL)</span></td><td class="d" style="height:56.25px;padding-top:3px;"><span style="letter-spacing:0.20px">15.8 ± 3.8</span></td><td class="d" style="height:56.25px;padding-top:3px;"><span style="letter-spacing:0.20px">12.5 ± 6.8</span></td><td class="d last" style="height:56.25px;padding-top:3px;"><span style="letter-spacing:-1.39px">NS<sup>a</sup></span></td></tr><tr class="b" style="height:56.25px"><td class="r" style="height:56.25px;padding-top:3px;"><span style="letter-spacing:-0.11px">Mean ( ± SD) left testicular volume (mL)</span></td><td class="d" style="height:56.25px;padding-top:3px;"><span style="letter-spacing:0.20px">12.7 ± 3.8</span></td><td class="d" style="height:56.25px;padding-top:3px;"><span style="letter-spacing:0.20px">13.0 ± 5.5</span></td><td class="d last" style="height:56.25px;padding-top:3px;"><span style="letter-spacing:-1.07px">NS<sup>b</sup></span></td></tr><tr class="a" style="height:56.25px"><td class="r" style="height:56.25px;padding-top:3px;"><span style="letter-spacing:-0.15px">Mean ( ± SD) semen volume (mL)</span></td><td class="d" style="height:56.25px;padding-top:3px;"><span style="letter-spacing:0.27px">3.1 ±1.1</span></td><td class="d" style="height:56.25px;padding-top:3px;"><span style="letter-spacing:0.17px">2.9 ± 1.7</span></td><td class="d last" style="height:56.25px;padding-top:3px;"><span style="letter-spacing:-1.39px">NS<sup>a</sup></span></td></tr><tr class="b" style="height:56.25px"><td class="r" style="height:56.25px;padding-top:3px;"><span style="letter-spacing:-0.03px">Mean ( ± SD) sperm concentration (x10<sup>6</sup>/mL)</span></td><td class="d" style="height:56.25px;padding-top:3px;"><span style="letter-spacing:0.17px">0.2 ± 0.2</span></td><td class="d" style="height:56.25px;padding-top:3px;"><span style="letter-spacing:0.17px">0.1 ± 0.1</span></td><td class="d last" style="height:56.25px;padding-top:3px;"><span style="letter-spacing:-1.07px">NS<sup>b</sup></span></td></tr><tr class="a" style="height:56.25px"><td class="r" style="height:56.25px;padding-top:3px;"><span style="letter-spacing:0.12px">Mean ( ± SD) total motility (%)</span></td><td class="d" style="height:56.25px;padding-top:3px;"><span style="letter-spacing:0.17px">4.0 ± 9.8</span></td><td class="d" style="height:56.25px;padding-top:3px;"><span style="letter-spacing:0.17px">2.7 ± 4.7</span></td><td class="d last" style="height:56.25px;padding-top:3px;"><span style="letter-spacing:-1.07px">NS<sup>b</sup></span></td></tr><tr class="b lastrow" style="height:56.25px"><td class="r" style="height:56.25px;padding-top:3px;"><span style="letter-spacing:-0.66px">Successful sperm retrievals</span></td><td class="d" style="height:56.25px;padding-top:3px;"><span style="letter-spacing:0.46px">78% (7/9)</span></td><td class="d" style="height:56.25px;padding-top:3px;"><span style="letter-spacing:0.46px">100% (12/12)</span></td><td class="d last" style="height:56.25px;padding-top:3px;"><span style="letter-spacing:-1.43px">NS<sup>c</sup></span></td></tr></table>
<div class="ln sf" style="left:1393px;top:2103.5px;width:1249px;"><b>Table 2:</b> Clinical characteristics of men undergoing testicular sperm aspiration (TESA; <i>n=9</i>) and</div>
<div class="ln sf" style="left:1393px;top:2139.9px;width:1249px;">microdissection testicular sperm extraction (micro-TESE; <i>n=12</i>) for oligozoospermia. <sup>a</sup>Students t-</div>
<div class="ln sf l" style="left:1393px;top:2176.3px;width:1249px;">test; <sup>b</sup>Mann Whitney <i>U</i>-test; <sup>c</sup>Fisher’s Exact test; NS = Not significant</div>
<svg class="abs" style="left:3977px;top:560px" width="117" height="840" viewBox="0 0 117 840"><defs><clipPath id="bclip"><path d="M0 0 H117 V826 L0 764.5 Z"/></clipPath></defs><g clip-path="url(#bclip)"><rect x="0" y="0" width="117" height="100" fill="#d3e2f2"/><ellipse cx="30" cy="45" rx="45" ry="28" fill="#9cc8ee"/><ellipse cx="95" cy="20" rx="40" ry="18" fill="#e4ecf6"/><rect x="50" y="64" width="67" height="34" fill="#d6a38e"/><path d="M66 64 L72 54 H117 V64 Z" fill="#e0622a"/><path d="M58 98 L70 83 H117 V98 Z" fill="#e5682c"/><rect x="100" y="70" width="10" height="8" fill="#6a5a52"/><rect x="0" y="78" width="16" height="156" fill="#e2a060"/><path d="M0 78 L16 84 V92 H0 Z" fill="#e0642c"/><rect x="4" y="115" width="6" height="14" fill="#c9a070"/><rect x="4" y="150" width="6" height="20" fill="#2a5db0"/><rect x="0" y="215" width="14" height="19" fill="#6b6e6a"/><rect x="15" y="70" width="76" height="166" fill="#f1ebdf"/><path d="M15 72 L50 62 V70 L15 80 Z" fill="#d96a30"/><rect x="88" y="96" width="29" height="82" fill="#e9c244"/><rect x="21" y="88" width="4" height="12" fill="#8d837a"/><rect x="30" y="86" width="4" height="12" fill="#8d837a"/><rect x="39" y="84" width="4" height="12" fill="#8d837a"/><rect x="21" y="118" width="4" height="10" fill="#8d837a"/><rect x="30" y="117" width="4" height="10" fill="#8d837a"/><rect x="39" y="114" width="4" height="12" fill="#8d837a"/><rect x="54" y="110" width="6" height="12" fill="#8d837a"/><rect x="26" y="158" width="5" height="16" fill="#8d837a"/><rect x="38" y="154" width="5" height="18" fill="#8d837a"/><rect x="54" y="146" width="6" height="16" fill="#8d837a"/><rect x="68" y="144" width="6" height="14" fill="#8d837a"/><rect x="26" y="192" width="5" height="22" fill="#8d837a"/><rect x="40" y="190" width="5" height="24" fill="#8d837a"/><rect x="54" y="186" width="7" height="14" fill="#8d837a"/><rect x="17" y="172" width="16" height="3" fill="#8a8a92"/><rect x="24" y="128" width="18" height="8" fill="#c9c4d8"/><rect x="0" y="234" width="117" height="100" fill="#8f917c"/><ellipse cx="88" cy="230" rx="40" ry="55" fill="#5f8f3a"/><ellipse cx="100" cy="205" rx="24" ry="30" fill="#6a9a40"/><ellipse cx="45" cy="312" rx="34" ry="24" fill="#4f8a30"/><ellipse cx="30" cy="262" rx="26" ry="14" fill="#3f6e2a"/><rect x="0" y="258" width="10" height="26" fill="#8b8270"/><rect x="0" y="296" width="24" height="26" fill="#7d9bb0"/><rect x="88" y="240" width="29" height="70" fill="#b392bf"/><path d="M82 240 L88 232 H117 V242 H82 Z" fill="#e0703a"/><path d="M64 304 L88 258 V304 Z" fill="#e2672c"/><rect x="64" y="303" width="53" height="8" fill="#c9a24a"/><rect x="104" y="255" width="10" height="26" fill="#f0eef2"/><rect x="66" y="311" width="51" height="112" fill="#e3b0ba"/><rect x="66" y="364" width="51" height="14" fill="#b5a78c"/><rect x="80" y="322" width="20" height="40" fill="#f3f1ee"/><rect x="110" y="322" width="7" height="40" fill="#e06a8a"/><rect x="78" y="384" width="26" height="36" fill="#f1efec"/><rect x="110" y="384" width="7" height="36" fill="#eeeae6"/><path d="M0 332 L10 326 L64 356 L66 372 H0 Z" fill="#e0642c"/><rect x="0" y="372" width="66" height="25" fill="#d6ad3c"/><rect x="15" y="376" width="17" height="20" fill="#f0eeee"/><rect x="46" y="376" width="18" height="20" fill="#f0eeee"/><rect x="0" y="397" width="66" height="48" fill="#e4dbc4"/><rect x="3" y="428" width="24" height="17" fill="#f6f4f0"/><rect x="36" y="428" width="24" height="17" fill="#f6f4f0"/><rect x="70" y="426" width="47" height="24" fill="#e0607a"/><rect x="0" y="445" width="66" height="23" fill="#e3bd4a"/><rect x="0" y="468" width="117" height="60" fill="#c7ad8c"/><rect x="66" y="450" width="51" height="18" fill="#d2bea0"/><rect x="3" y="473" width="23" height="47" fill="#efeceb"/><rect x="36" y="473" width="24" height="47" fill="#efeceb"/><rect x="78" y="457" width="27" height="63" fill="#efeceb"/><rect x="112" y="457" width="5" height="63" fill="#efeceb"/><rect x="7" y="484" width="15" height="22" fill="#9a8f8a"/><rect x="40" y="484" width="15" height="22" fill="#9a8f8a"/><rect x="83" y="470" width="17" height="30" fill="#9a8f8a"/><rect x="0" y="505" width="66" height="4" fill="#7a4a48"/><rect x="70" y="508" width="47" height="4" fill="#6a5a55"/><rect x="0" y="528" width="117" height="55" fill="#bfa684"/><rect x="3" y="545" width="23" height="31" fill="#f0eeec"/><rect x="36" y="545" width="24" height="31" fill="#f0eeec"/><rect x="78" y="538" width="27" height="40" fill="#f0eeec"/><rect x="112" y="538" width="5" height="40" fill="#f0eeec"/><rect x="7" y="552" width="15" height="20" fill="#6a625e"/><rect x="40" y="552" width="15" height="20" fill="#6a625e"/><rect x="0" y="583" width="66" height="27" fill="#f0c020"/><rect x="70" y="583" width="47" height="24" fill="#e0566f"/><rect x="66" y="583" width="4" height="27" fill="#8a7a6a"/><rect x="0" y="610" width="117" height="48" fill="#6e584b"/><path d="M2 632 L40 611 L78 632 Z" fill="#f3f1ec"/><path d="M78 630 L117 612 V630 Z" fill="#f3f1ec"/><rect x="0" y="658" width="117" height="95" fill="#b3a888"/><path d="M4 753 V735 A38 42 0 0 1 80 735 V753 Z" fill="#8d8468"/><path d="M12 753 V738 A32 36 0 0 1 76 738 V753 Z" fill="#352c26"/><ellipse cx="102" cy="694" rx="40" ry="70" fill="#3f9a2f"/><ellipse cx="106" cy="730" rx="30" ry="30" fill="#2f7f26"/><ellipse cx="72" cy="706" rx="14" ry="20" fill="#3f9a2f"/><rect x="0" y="753" width="117" height="80" fill="#6f5648"/><path d="M0 768 L8 752 L50 748 L88 752 L100 768 Z" fill="#efeae0"/><rect x="26" y="770" width="12" height="18" fill="#c8252a"/><rect x="40" y="770" width="12" height="20" fill="#e8e4ee"/><rect x="88" y="784" width="8" height="14" fill="#c83030"/><rect x="100" y="790" width="10" height="18" fill="#d8d8e0"/></g></svg>
<div class="box" style="left:2729px;top:563px;width:1248px;height:1090px"></div>
<div class="h" style="left:2762px;top:597px">Results</div>
<div class="ln" style="left:2762.5px;top:659.0px;width:1182px;">Men in the combined cohort undergoing micro-TESE had significantly lower</div>
<div class="ln" style="left:2762.5px;top:700.5px;width:1182px;">sperm concentration than TESA (0.085<span class=pm>±</span>0.33 vs 0.16<span class=pm>±</span>0.20; p=0.0044), but</div>
<div class="ln" style="left:2762.5px;top:742.0px;width:1182px;">a significantly improved SRR (95% vs 70%, p=0.048). In a subset of men</div>
<div class="ln" style="left:2762.5px;top:783.5px;width:1182px;">with severe oligozoospermia, there were no significant differences between</div>
<div class="ln" style="left:2762.5px;top:825.0px;width:1182px;">the two retrieval techniques in hormone levels, semen concentration or</div>
<div class="ln" style="left:2762.5px;top:866.5px;width:1182px;">motility, nor in SRR (100% vs 78%, p&gt;0.05). Overall, we found no difference</div>
<div class="ln" style="left:2762.5px;top:908.0px;width:1182px;">in SRR of micro-TESE between cryptozoospermic and severely</div>
<div class="ln l" style="left:2762.5px;top:949.5px;width:1182px;">oligozoospermic men with intermittent azoospermia (93% vs 100%, p&gt;0.05).</div>
<table style="left:2767px;top:1016px;width:1172.0px;"><colgroup><col style="width:438px"><col style="width:255.5px"><col style="width:310.5px"><col style="width:168px"></colgroup><tr class="hrow" style="height:50px"><td class="hd" style="height:50px;padding-bottom:4px;"></td><td class="hd last" colspan="3" style="height:50px;padding-bottom:4px;"><span style="letter-spacing:-1.74px">SPERM RETRIEVAL RATES</span></td></tr><tr class="a" style="height:48px"><td class="r" style="height:48px;padding-bottom:4px;"><span style="letter-spacing:-0.29px">Sperm concentration</span></td><td class="d" style="height:48px;padding-bottom:4px;"><span style="letter-spacing:-2.48px">TESA</span></td><td class="d" style="height:48px;padding-bottom:4px;"><span style="letter-spacing:-0.56px">Micro-TESE</span></td><td class="d last" style="height:48px;padding-bottom:4px;"><span style="letter-spacing:-0.10px">P value</span></td></tr><tr class="b" style="height:50px"><td class="r" style="height:50px;padding-bottom:4px;"><span style="letter-spacing:0.28px">&lt;0.1 million/mL</span></td><td class="d" style="height:50px;padding-bottom:4px;"><span style="letter-spacing:0.46px">80% (4/5)</span></td><td class="d" style="height:50px;padding-bottom:4px;"><span style="letter-spacing:0.46px">93% (28/30)</span></td><td class="d last" style="height:50px;padding-bottom:4px;"><span style="letter-spacing:-1.96px">NS</span></td></tr><tr class="a" style="height:50px"><td class="r" style="height:50px;padding-bottom:4px;"><span style="letter-spacing:0.28px">&gt;0.1 million/mL</span></td><td class="d" style="height:50px;padding-bottom:4px;"><span style="letter-spacing:0.26px">&nbsp;&nbsp;67% (2/3)</span></td><td class="d" style="height:50px;padding-bottom:4px;"><span style="letter-spacing:0.21px">&nbsp;&nbsp;&nbsp;100% (7/7)</span></td><td class="d last" style="height:50px;padding-bottom:4px;"><span style="letter-spacing:-1.96px">NS</span></td></tr><tr class="b" style="height:50px"><td class="r" style="height:50px;padding-bottom:4px;"></td><td class="d" style="height:50px;padding-bottom:4px;"></td><td class="d" style="height:50px;padding-bottom:4px;"></td><td class="d last" style="height:50px;padding-bottom:4px;"></td></tr><tr class="a" style="height:50px"><td class="r" style="height:50px;padding-bottom:4px;"><span style="letter-spacing:0.29px">&lt;0.01 million/mL</span></td><td class="d" style="height:50px;padding-bottom:4px;"><span style="letter-spacing:0.46px">100% (1/1)</span></td><td class="d" style="height:50px;padding-bottom:4px;"><span style="letter-spacing:0.46px">96% (26/27)</span></td><td class="d last" style="height:50px;padding-bottom:4px;"><span style="letter-spacing:-1.96px">NS</span></td></tr><tr class="b" style="height:50px"><td class="r" style="height:50px;padding-bottom:4px;"><span style="letter-spacing:0.17px">&gt;0.01 and &lt;0.1 million/mL</span></td><td class="d" style="height:50px;padding-bottom:4px;"><span style="letter-spacing:0.46px">75% (3/4)</span></td><td class="d" style="height:50px;padding-bottom:4px;"><span style="letter-spacing:0.46px">67% (2/3)</span></td><td class="d last" style="height:50px;padding-bottom:4px;"><span style="letter-spacing:-1.96px">NS</span></td></tr><tr class="a lastrow" style="height:50px"><td class="r" style="height:50px;padding-bottom:4px;"><span style="letter-spacing:0.28px">&gt;0.1 million/mL</span></td><td class="d" style="height:50px;padding-bottom:4px;"><span style="letter-spacing:0.46px">67% (2/3)</span></td><td class="d" style="height:50px;padding-bottom:4px;"><span style="letter-spacing:0.46px">100% (7/7)</span></td><td class="d last" style="height:50px;padding-bottom:4px;"><span style="letter-spacing:-1.96px">NS</span></td></tr></table>
<div class="ln sf l" style="left:2765px;top:1437.0px;width:1190px"><b>Table 4:</b> Sperm retrieval rates with testicular sperm aspiration (TESA) and microdissection</div>
<div class="ln sf l" style="left:2765px;top:1473.8px;width:1190px">testicular sperm extraction (micro-TESE) according to sperm concentration in men with</div>
<div class="ln sf l" style="left:2765px;top:1510.6px;width:1190px">cryptozoospermia and oligozoospermia. Sperm concentration values were not available for</div>
<div class="ln sf l" style="left:2765px;top:1547.4px;width:1190px">2/10 men who underwent TESA and 3/40 Micro-TESE patients undergoing Fisher’s Exact</div>
<div class="ln sf l" style="left:2765px;top:1584.2px;width:1190px">test used for all comparisons. NS = Not significant.</div>
<div class="box" style="left:2729px;top:1678px;width:1248px;height:404px"></div>
<div class="h" style="left:2762px;top:1711px">Conclusion</div>
<div class="ln" style="left:2762.5px;top:1761.5px;width:1182px;">Overall, our data demonstrate that micro-TESE offers higher SRR than</div>
<div class="ln" style="left:2762.5px;top:1802.9px;width:1182px;">TESA in men with intermittent azoospermia, representing the first</div>
<div class="ln" style="left:2762.5px;top:1844.3px;width:1182px;">comparison of TSR in this subtype of severe oligozoospermia. Thus, patients</div>
<div class="ln" style="left:2762.5px;top:1885.7px;width:1182px;">with intermittent azoospermia should be counselled on the success rates of</div>
<div class="ln" style="left:2762.5px;top:1927.1px;width:1182px;">these two techniques to inform their decisions. Future studies are needed to</div>
<div class="ln" style="left:2762.5px;top:1968.5px;width:1182px;">further assess success rates in men with cryptozoospermic intermittent</div>
<div class="ln l" style="left:2762.5px;top:2009.9px;width:1182px;">azoospermia.</div>
<svg class="abs" style="left:2750px;top:2105px" width="450" height="140" viewBox="0 0 450 140">
<path d="M9.5 17 Q53 11 97.5 17 V68 C97.5 98 76 116 53.5 126 C31 116 9.5 98 9.5 68 Z" fill="#fff" stroke="#d8412f" stroke-width="1.6"/>
<path d="M9.5 17 Q53 11 97.5 17 V53 L83.2 45 L68.6 61 L54 45 L39.5 61 L24.9 45 L9.5 53 Z" fill="#d8412f"/>
<path d="M15.5 27 L19.5 33 L24.5 24 L29.5 33 L33.5 27 L31.5 38 H17.5 Z" fill="#fff"/><path d="M74 27 L78 33 L83 24 L88 33 L92 27 L90 38 H76 Z" fill="#fff"/><rect x="41.5" y="19.5" width="23.5" height="19" rx="1.5" fill="#fff"/><rect x="52.7" y="19.5" width="1.2" height="19" fill="#d8412f"/><rect x="44" y="24" width="7" height="1.4" fill="#d8412f"/><rect x="44" y="28" width="7" height="1.4" fill="#d8412f"/><rect x="44" y="32" width="7" height="1.4" fill="#d8412f"/><rect x="56" y="24" width="7" height="1.4" fill="#d8412f"/><rect x="56" y="28" width="7" height="1.4" fill="#d8412f"/><rect x="56" y="32" width="7" height="1.4" fill="#d8412f"/>
<ellipse cx="36" cy="77" rx="8" ry="5.5" fill="#d8412f" transform="rotate(20 36 77)"/><circle cx="30" cy="71" r="3.6" fill="#d8412f"/><path d="M39 73 L49 68 L45 77 L50 83 L38 81 Z" fill="#d8412f"/><rect x="32" y="81" width="2" height="5" fill="#d8412f"/><rect x="36" y="81" width="2" height="5" fill="#d8412f"/><ellipse cx="69" cy="78" rx="8" ry="5.5" fill="#d8412f" transform="rotate(20 69 78)"/><circle cx="63" cy="72" r="3.6" fill="#d8412f"/><path d="M72 74 L82 69 L78 78 L83 84 L71 82 Z" fill="#d8412f"/><rect x="65" y="82" width="2" height="5" fill="#d8412f"/><rect x="69" y="82" width="2" height="5" fill="#d8412f"/><ellipse cx="53.5" cy="102" rx="8" ry="5.5" fill="#d8412f" transform="rotate(20 53.5 102)"/><circle cx="47.5" cy="96" r="3.6" fill="#d8412f"/><path d="M56.5 98 L66.5 93 L62.5 102 L67.5 108 L55.5 106 Z" fill="#d8412f"/><rect x="49.5" y="106" width="2" height="5" fill="#d8412f"/><rect x="53.5" y="106" width="2" height="5" fill="#d8412f"/>
<text x="125" y="87" font-family="Liberation Serif, serif" font-size="98" fill="#d8412f" stroke="#d8412f" stroke-width="1.6" textLength="300" lengthAdjust="spacingAndGlyphs">McGill</text>
<text x="129" y="124" font-family="Liberation Serif, serif" font-size="30" fill="#d8412f" textLength="292" lengthAdjust="spacing">UNIVERSITY</text>
</svg>
<svg class="abs" style="left:3510px;top:2100px" width="480" height="140" viewBox="0 0 480 140">
<ellipse cx="45.8" cy="69.6" rx="26.5" ry="38" fill="none" stroke="#d98a2f" stroke-width="4.4" transform="rotate(9 45.8 69.6)"/>
<ellipse cx="60.8" cy="57.9" rx="26.5" ry="38" fill="none" stroke="#d98a2f" stroke-width="4.4" transform="rotate(-7 60.8 57.9)"/>
<g transform="translate(105.5 90) scale(0.78 1)" font-family="Liberation Sans, sans-serif" font-size="78">
<text x="0" y="0" fill="#87888c" textLength="311" lengthAdjust="spacing">clinique</text>
<text x="320" y="0" fill="#d98a2f" textLength="135" lengthAdjust="spacing">ovo</text>
</g>
</svg>
</body></html>
